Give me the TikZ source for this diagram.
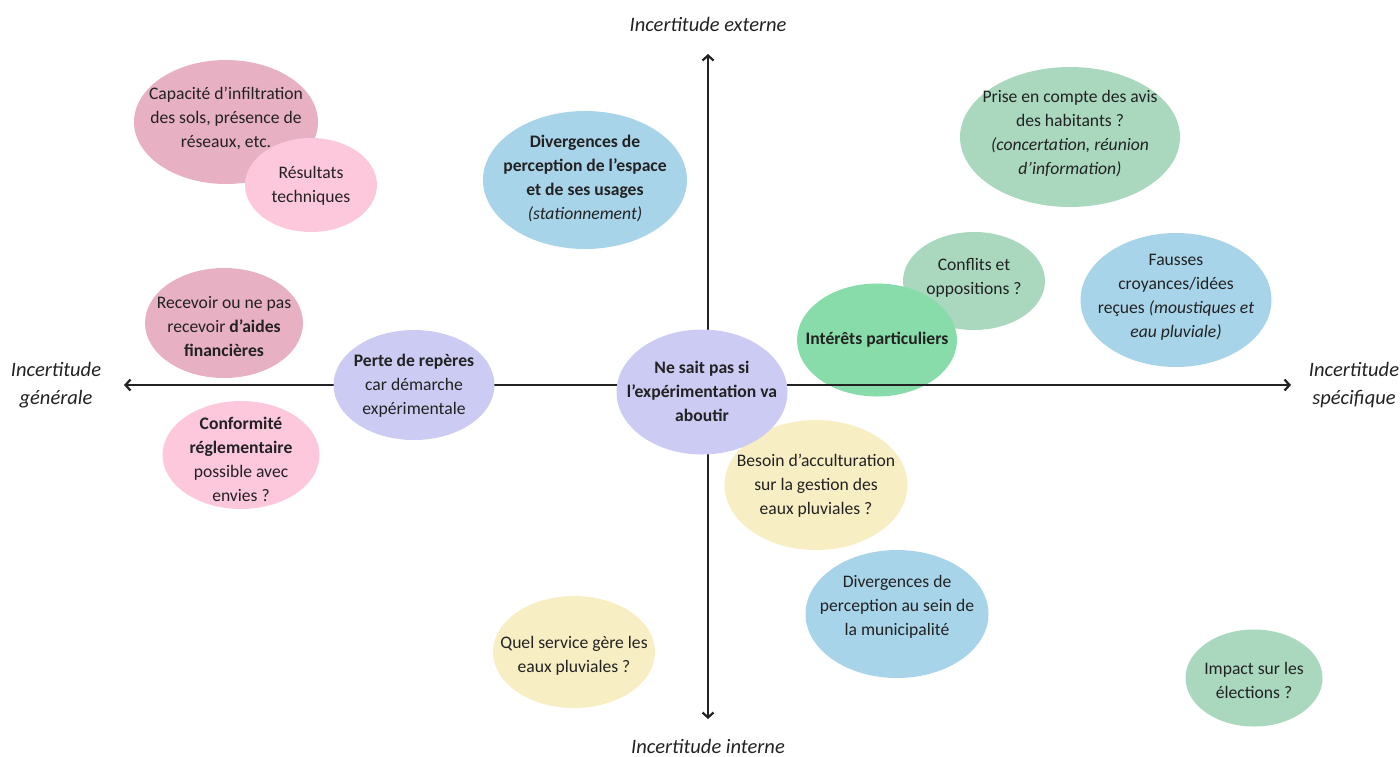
\documentclass[tikz,border=0pt]{standalone}
\usepackage{fontspec}
\setmainfont{Carlito}
\usetikzlibrary{arrows.meta,shapes.geometric}
\definecolor{pinkA}{HTML}{E8B0C3}
\definecolor{pinkB}{HTML}{FDC8DB}
\definecolor{blueA}{HTML}{A8D4EA}
\definecolor{greenA}{HTML}{A9D8BF}
\definecolor{greenB}{HTML}{88DCAA}
\definecolor{lavA}{HTML}{CBCBF3}
\definecolor{yelA}{HTML}{F8EEC3}
\definecolor{ink}{HTML}{222222}
\begin{document}
\begin{tikzpicture}[x=1pt,y=-1pt,
  bubble/.style={ellipse,draw=none,inner sep=0pt},
  txt/.style={align=center,inner sep=0pt,text=ink,font=\fontsize{17.6}{24}\selectfont},
  axislabel/.style={align=center,inner sep=0pt,text=ink,font=\fontsize{20.5}{28}\selectfont\itshape},
  axis/.style={line width=2.2pt,draw=ink,{Straight Barb[length=5pt,width=11pt]}-{Straight Barb[length=5pt,width=11pt]}}
]
\useasboundingbox (0,0) rectangle (1400,756);

% ellipses lying under the axes
\node[bubble,fill=greenA,minimum width=142pt,minimum height=98pt] (confl) at (974,281) {};
\node[txt] (confl-t) at (974,278) {Conflits et\\oppositions ?};
\node[bubble,fill=greenB,minimum width=160pt,minimum height=113pt] (inter) at (877,340) {};
\node[txt] (inter-t) at (877,340) {\bfseries Intérêts particuliers};

% axes
\coordinate (hL) at (124,385);
\coordinate (hR) at (1291,385);
\coordinate (vT) at (708,54);
\coordinate (vB) at (708,719);
\draw[axis] (hL) -- (hR);
\draw[axis] (vB) -- (vT);

\node[axislabel] (gen) at (56,385) {Incertitude\\générale};
\node[axislabel] (spec) at (1354,385) {Incertitude\\spécifique};
\node[axislabel] (ext) at (708,24) {Incertitude externe};
\node[axislabel] (int) at (708,746) {Incertitude interne};

% top left: technical results
\node[bubble,fill=pinkA,minimum width=184pt,minimum height=124pt] (cap) at (226,122) {};
\node[txt] (cap-t) at (226,118) {Capacité d’infiltration\\des sols, présence de\\réseaux, etc.};
\node[bubble,fill=pinkB,minimum width=132pt,minimum height=94pt] (res) at (311,185) {};
\node[txt] (res-t) at (311,186) {Résultats\\techniques};

% perception of space
\node[bubble,fill=blueA,minimum width=204pt,minimum height=138pt] (div) at (585,180) {};
\node[txt] (div-t) at (585,179) {\bfseries Divergences de\\\bfseries perception de l’espace\\\bfseries et de ses usages\\\itshape (stationnement)};

% residents' opinion
\node[bubble,fill=greenA,minimum width=220pt,minimum height=140pt] (avis) at (1070,137) {};
\node[txt] (avis-t) at (1070,134) {Prise en compte des avis\\des habitants ?\\\itshape (concertation, réunion\\\itshape d’information)};

% false beliefs
\node[bubble,fill=blueA,minimum width=191pt,minimum height=134pt] (faus) at (1176,300) {};
\node[txt] (faus-t) at (1176,297) {Fausses\\croyances/idées\\reçues \itshape (moustiques et\\\itshape eau pluviale)};

% financial aid
\node[bubble,fill=pinkA,minimum width=158pt,minimum height=110pt] (aid) at (224,323) {};
\node[txt] (aid-t) at (224,327) {Recevoir ou ne pas\\recevoir \bfseries d’aides\\\bfseries financières};

% regulatory compliance
\node[bubble,fill=pinkB,minimum width=157pt,minimum height=108pt] (conf) at (241,455) {};
\node[txt] (conf-t) at (241,459) {\bfseries Conformité\\\bfseries réglementaire\\possible avec\\envies ?};

% acculturation
\node[bubble,fill=yelA,minimum width=183pt,minimum height=130pt] (bes) at (816,485) {};
\node[txt] (bes-t) at (816,486) {Besoin d’acculturation\\sur la gestion des\\eaux pluviales ?};

% bubbles on the axes
\node[bubble,fill=lavA,minimum width=161pt,minimum height=110pt] (perte) at (414,385) {};
\node[txt] (perte-t) at (414,386) {\bfseries Perte de repères\\car démarche\\expérimentale};
\node[bubble,fill=lavA,minimum width=171pt,minimum height=125pt] (nsp) at (702,392) {};
\node[txt] (nsp-t) at (702,391) {\bfseries Ne sait pas si\\\bfseries l’expérimentation va\\\bfseries aboutir};

% municipality
\node[bubble,fill=blueA,minimum width=183pt,minimum height=128pt] (mun) at (897,614) {};
\node[txt] (mun-t) at (897,607) {Divergences de\\perception au sein de\\la municipalité};

% service in charge
\node[bubble,fill=yelA,minimum width=162pt,minimum height=112pt] (serv) at (574,652) {};
\node[txt] (serv-t) at (574,656) {Quel service gère les\\eaux pluviales ?};

% elections
\node[bubble,fill=greenA,minimum width=137pt,minimum height=97pt] (elec) at (1254,678) {};
\node[txt] (elec-t) at (1254,680) {Impact sur les\\élections ?};
\end{tikzpicture}
\end{document}
